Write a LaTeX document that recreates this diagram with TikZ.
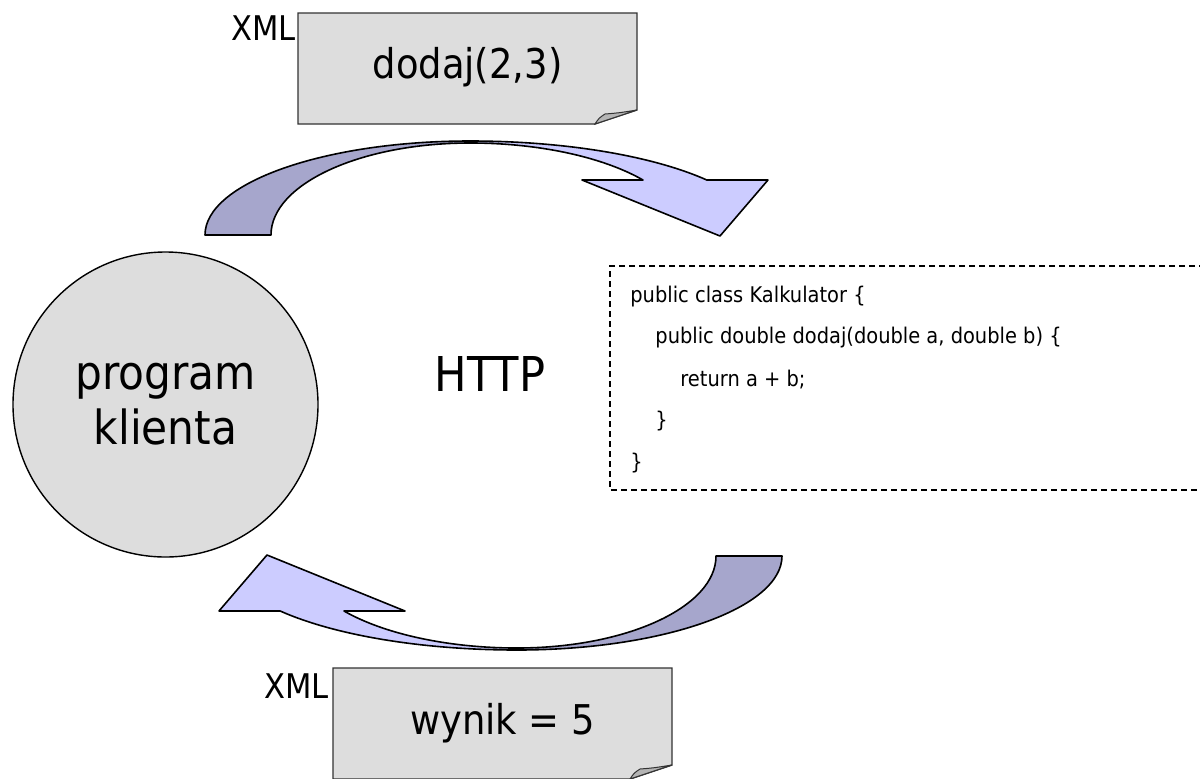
\documentclass[tikz,border=0pt]{standalone}
\usepackage{fontspec}
\setmainfont{DejaVu Sans}[FakeStretch=0.9]
\definecolor{backband}{HTML}{A6A6CC}
\definecolor{frontband}{HTML}{CCCCFF}
\definecolor{paper}{HTML}{DDDDDD}
\definecolor{foldc}{HTML}{B4B4B4}
\tikzset{
  back/.style={fill=backband,draw=black,line width=0.8pt,line join=round},
  front/.style={fill=frontband,draw=black,line width=0.8pt,line join=round},
  docbox/.style={fill=paper,draw=black!80,line width=0.7pt},
  fold/.style={fill=foldc,draw=black!80,line width=0.5pt},
  lbl/.style={inner sep=0pt,font=\fontsize{17}{20}\selectfont},
  msg/.style={inner sep=0pt,font=\fontsize{20.5}{24}\selectfont},
  codeline/.style={inner sep=0pt,anchor=west,font=\fontsize{10.8}{13}\selectfont},
}
\begin{document}
\begin{tikzpicture}[x=0.5pt,y=0.5pt]
\useasboundingbox (0,0) rectangle (1200,-778);
% curved arrow (top one; the bottom one is the same shape turned round)
\newcommand{\curvedarrow}{%
  \path[back] (205,-235) arc[start angle=180,end angle=90,x radius=132.5pt,y radius=47pt]
     -- (470,-143) arc[start angle=90,end angle=180,x radius=99.5pt,y radius=46pt] -- cycle;
  \path[front] (470,-141) arc[start angle=90,end angle=35.8,x radius=146pt,y radius=47pt]
     -- (768,-180) -- (720,-236) -- (582,-180) -- (643,-180)
     arc[start angle=36.7,end angle=90,x radius=108pt,y radius=46pt] -- cycle;
}
\curvedarrow
\begin{scope}[rotate around={180:(493.5,-395.5)}]
\curvedarrow
\end{scope}
% client circle
\node[circle,draw=black,line width=0.7pt,fill=paper,minimum size=152.5pt,inner sep=0pt,
      align=center,font=\fontsize{23.5}{27.5}\selectfont] (client) at (165.5,-404.5) {program\\klienta};
% HTTP
\node[inner sep=0pt,font=\fontsize{24}{28}\selectfont] (http) at (490,-374) {HTTP};
% code box
\draw[line width=0.6pt,dash pattern=on 3pt off 2pt] (1215,-266) -- (610,-266) -- (610,-490) -- (1215,-490);
\node[codeline] (c1) at (630,-297) {public class Kalkulator \{};
\node[codeline] (c2) at (655,-338) {public double dodaj(double a, double b) \{};
\node[codeline] (c3) at (680,-380) {return a + b;};
\node[codeline] (c4) at (655,-421) {\}};
\node[codeline] (c5) at (630,-463) {\}};
% top document
\path[docbox] (298,-13) -- (637,-13) -- (637,-110) -- (595,-124) -- (298,-124) -- cycle;
\path[fold] (595,-124) .. controls (599,-118) .. (605,-114) .. controls (618,-113) .. (637,-110) -- cycle;
\node[msg] (req) at (467.5,-67) {dodaj(2,3)};
\node[lbl,anchor=base east] (xml1) at (296,-40) {XML};
% bottom document
\path[docbox] (333,-668) -- (672,-668) -- (672,-765) -- (630,-779) -- (333,-779) -- cycle;
\path[fold] (630,-779) .. controls (634,-773) .. (640,-769) .. controls (653,-768) .. (672,-765) -- cycle;
\node[msg] (resp) at (502.5,-723) {wynik = 5};
\node[lbl,anchor=base east] (xml2) at (329,-698) {XML};
\end{tikzpicture}
\end{document}
